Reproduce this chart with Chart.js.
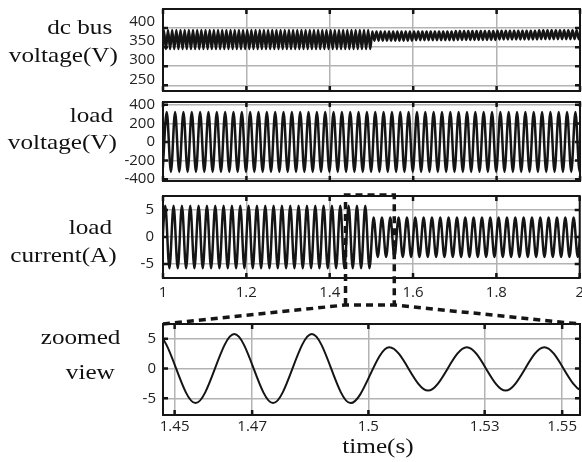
<!DOCTYPE html>
<html>
<head>
<meta charset="utf-8">
<script src="https://cdn.jsdelivr.net/npm/chart.js@4.4.0/dist/chart.umd.min.js"></script>
<style>
html, body { margin: 0; padding: 0; background: #fff; overflow: hidden; }
#wrap { position: relative; width: 582px; height: 462px; overflow: hidden; }
canvas.panel { position: absolute; left: 0; }
#overlay { position: absolute; left: 0; top: 0; pointer-events: none; }
.lbl {
  position: absolute; white-space: nowrap; color: #111;
  font-family: "Liberation Serif", "Times New Roman", serif;
  font-size: 21px; line-height: 21px;
  transform: scaleX(1.2); transform-origin: right center;
}
#xtitle { transform: translateX(-50%) scaleX(1.2); transform-origin: center center; }
</style>
</head>
<body>
<div id="wrap">
  <canvas id="busChart" class="panel" width="590" height="116" style="top:-8px"></canvas>
  <canvas id="voltChart" class="panel" width="590" height="113" style="top:85px"></canvas>
  <canvas id="currChart" class="panel" width="590" height="130" style="top:178px"></canvas>
  <canvas id="zoomChart" class="panel" width="590" height="137" style="top:308px"></canvas>
  <canvas id="overlay" width="582" height="462"></canvas>

  <div class="lbl" style="right:470px; top:17px">dc bus</div>
  <div class="lbl" style="right:464px; top:45px">voltage(V)</div>
  <div class="lbl" style="right:469px; top:105px">load</div>
  <div class="lbl" style="right:465px; top:132px">voltage(V)</div>
  <div class="lbl" style="right:470px; top:217px">load</div>
  <div class="lbl" style="right:465px; top:245px">current(A)</div>
  <div class="lbl" style="right:462px; top:327px">zoomed</div>
  <div class="lbl" style="right:467px; top:362px">view</div>
  <div class="lbl" id="xtitle" style="left:378px; top:436px">time(s)</div>
</div>
<script>
// axis ticks
const timeTicks = [1, 1.2, 1.4, 1.6, 1.8, 2];
const zoomTicks = [1.45, 1.47, 1.5, 1.53, 1.55];
const busTicks = [250, 300, 350, 400];
const voltTicks = [-400, -200, 0, 200, 400];
const currTicks = [-5, 0, 5];

// envelopes, one value per 0.1 s starting at these times
const envelopeTimes = [1.0, 1.1, 1.2, 1.3, 1.4, 1.5, 1.6, 1.7, 1.8, 1.9];
const busHigh = [395, 395, 395, 395, 395, 391, 391, 392, 393, 394];
const busLow = [345, 345, 345, 345, 345, 367, 368, 369, 370, 371];
const voltHigh = [322, 322, 322, 322, 322, 322, 322, 322, 322, 322];
const voltLow = [-322, -322, -322, -322, -322, -322, -322, -322, -322, -322];
const currHigh = [5.8, 5.8, 5.8, 5.8, 5.8, 3.6, 3.6, 3.6, 3.6, 3.6];
const currLow = [-5.8, -5.8, -5.8, -5.8, -5.8, -3.7, -3.7, -3.7, -3.7, -3.7];

// frequencies and first peak times read from the zoomed view
const lineFreq = 50;
const rippleFreq = 100;
const currFirstPeak = 1.0054;
const voltFirstPeak = 1.009;
const busFirstPeak = 1.002;

// zoom window and the dashed box drawn around it on the current panel
const zoomRange = [1.447, 1.5546];
const zoomBox = [1.438, 1.555];

const gridColor = '#b3b3b3';
const inkColor = '#151515';
const tickFont = { family: "'Open Sans', sans-serif", size: 15 };

function envIndex(t) {
  let i = 0;
  for (let j = 0; j < envelopeTimes.length; j++) if (envelopeTimes[j] <= t + 1e-9) i = j;
  return i;
}

// peaks and troughs of a trace; the curve between them is drawn by the library
function extrema(firstPeak, freq, highs, lows) {
  const half = 1 / freq / 2;
  const pts = [];
  for (let k = -1; firstPeak + k * half <= 2.02; k++) {
    const t = firstPeak + k * half;
    const i = envIndex(t);
    pts.push({ x: t, y: k % 2 === 0 ? highs[i] : lows[i] });
  }
  return pts;
}

const frame = {
  id: 'frame',
  afterDatasetsDraw(chart) {
    const { ctx, chartArea: a, scales } = chart;
    ctx.save();
    ctx.strokeStyle = inkColor;
    ctx.lineWidth = 2.5;
    ctx.beginPath();
    scales.x.ticks.forEach(t => {
      const px = scales.x.getPixelForValue(t.value);
      ctx.moveTo(px, a.top); ctx.lineTo(px, a.top + 5);
      ctx.moveTo(px, a.bottom); ctx.lineTo(px, a.bottom - 5);
    });
    scales.y.ticks.forEach(t => {
      const py = scales.y.getPixelForValue(t.value);
      ctx.moveTo(a.left, py); ctx.lineTo(a.left + 5, py);
      ctx.moveTo(a.right, py); ctx.lineTo(a.right - 5, py);
    });
    ctx.stroke();
    ctx.lineWidth = 2;
    ctx.strokeRect(a.left, a.top, a.right - a.left, a.bottom - a.top);
    ctx.restore();
  }
};

function axisX(min, max, ticks, showLabels, pad) {
  return {
    type: 'linear', min: min, max: max,
    afterBuildTicks: s => { s.ticks = ticks.map(v => ({ value: v })); },
    afterFit: s => { s.height = showLabels ? 30 : 0; },
    grid: { color: gridColor, lineWidth: 1.5, drawTicks: false },
    border: { display: false },
    ticks: { display: showLabels, font: tickFont, color: '#222', padding: pad,
             maxRotation: 0, autoSkip: false, callback: v => String(v) }
  };
}

function axisY(min, max, ticks, labelOffset, pad) {
  return {
    min: min, max: max,
    afterBuildTicks: s => { s.ticks = ticks.map(v => ({ value: v })); },
    afterFit: s => { s.width = 163; },
    grid: { color: gridColor, lineWidth: 1.5, drawTicks: false },
    border: { display: false },
    ticks: { font: tickFont, color: '#222', padding: pad, labelOffset: labelOffset,
             autoSkip: false, callback: v => String(v) }
  };
}

function makePanel(id, points, width, x, y, bottomPad) {
  return new Chart(document.getElementById(id), {
    type: 'line',
    data: {
      datasets: [{
        data: points,
        borderColor: inkColor,
        borderWidth: width,
        pointRadius: 0,
        cubicInterpolationMode: 'monotone',
        fill: false
      }]
    },
    options: {
      responsive: false,
      animation: false,
      devicePixelRatio: 1,
      layout: { padding: { left: 0, right: 10, top: 15, bottom: bottomPad } },
      plugins: { legend: { display: false }, tooltip: { enabled: false } },
      scales: { x: x, y: y }
    },
    plugins: [frame]
  });
}

const busPts = extrema(busFirstPeak, rippleFreq, busHigh, busLow);
const voltPts = extrema(voltFirstPeak, lineFreq, voltHigh, voltLow);
const currPts = extrema(currFirstPeak, lineFreq, currHigh, currLow);

const busChart = makePanel('busChart', busPts, 2.5,
  axisX(1, 2, timeTicks, false, 0), axisY(235, 450, busTicks, -6, 8), 15);
const voltChart = makePanel('voltChart', voltPts, 2.5,
  axisX(1, 2, timeTicks, false, 0), axisY(-420, 430, voltTicks, 0, 8), 15);
const currChart = makePanel('currChart', currPts, 2.5,
  axisX(1, 2, timeTicks, true, 6), axisY(-7.6, 7.6, currTicks, 0, 9), 0);
const zoomChart = makePanel('zoomChart', currPts, 2,
  axisX(zoomRange[0], zoomRange[1], zoomTicks, true, 3), axisY(-7.8, 7.5, currTicks, 0, 7), 0);

// dashed box on the current panel and the lines down to the zoomed view
function drawZoomLinks() {
  const ctx = document.getElementById('overlay').getContext('2d');
  const currTop = 178, zoomTop = 308, boxBottom = 305;
  const sx = currChart.scales.x;
  const boxL = sx.getPixelForValue(zoomBox[0]);
  const boxR = sx.getPixelForValue(zoomBox[1]);
  const boxT = currTop + currChart.chartArea.top - 1;
  const za = zoomChart.chartArea;
  ctx.save();
  ctx.strokeStyle = inkColor;
  ctx.lineWidth = 3.5;
  ctx.setLineDash([7, 5]);
  ctx.beginPath();
  ctx.moveTo(za.left, zoomTop + za.top);
  ctx.lineTo(boxL, boxBottom);
  ctx.lineTo(boxR, boxBottom);
  ctx.lineTo(za.right, zoomTop + za.top);
  ctx.stroke();
  ctx.beginPath();
  ctx.moveTo(boxL, boxBottom);
  ctx.lineTo(boxL, boxT);
  ctx.lineTo(boxR, boxT);
  ctx.lineTo(boxR, boxBottom);
  ctx.stroke();
  ctx.restore();
}
drawZoomLinks();
</script>
</body>
</html>
